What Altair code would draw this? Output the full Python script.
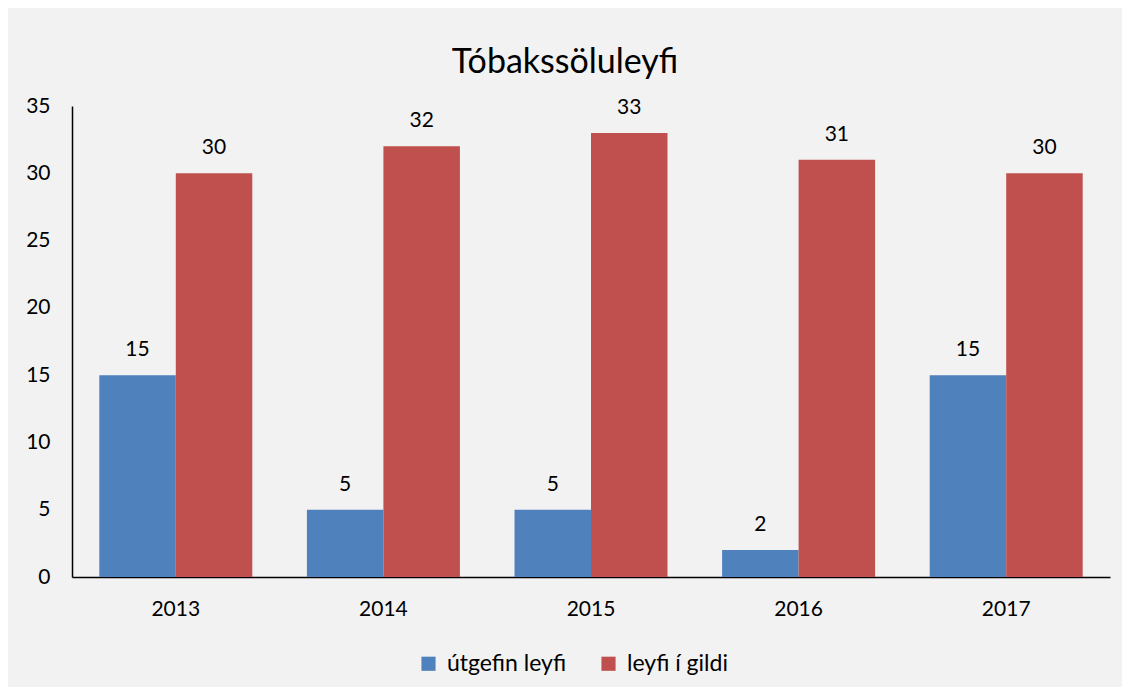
import altair as alt
import pandas as pd

years = ["2013", "2014", "2015", "2016", "2017"]
utgefin = [15, 5, 5, 2, 15]
gildi = [30, 32, 33, 31, 30]
series = ["útgefin leyfi", "leyfi í gildi"]
colors = ["#4f81bd", "#c0504d"]

rows = []
for i, y in enumerate(years):
    rows.append({"year": y, "series": series[0], "value": utgefin[i]})
    rows.append({"year": y, "series": series[1], "value": gildi[i]})
df = pd.DataFrame(rows)

FONT = "Lato"

base = alt.Chart(df).encode(
    x=alt.X("year:N", sort=years, title=None,
            scale=alt.Scale(paddingInner=0.263, paddingOuter=0.1315),
            axis=alt.Axis(labelAngle=0, ticks=False, domainColor="#000000",
                          domainWidth=1.5, labelFontSize=21, labelPadding=21,
                          labelColor="#000000", labelFont=FONT)),
    xOffset=alt.XOffset("series:N", sort=series, scale=alt.Scale(paddingInner=0, paddingOuter=0)),
)

bars = base.mark_bar().encode(
    y=alt.Y("value:Q", title=None, scale=alt.Scale(domain=[0, 35]),
            axis=alt.Axis(values=[0, 5, 10, 15, 20, 25, 30, 35], grid=False, ticks=False,
                          domainColor="#000000", domainWidth=1.5, labelFontSize=21,
                          labelPadding=22, labelColor="#000000", labelFont=FONT)),
    color=alt.Color("series:N", sort=series,
                    scale=alt.Scale(domain=series, range=colors),
                    legend=alt.Legend(title=None, orient="none", direction="horizontal",
                                      legendX=345, legendY=546, symbolType="square",
                                      symbolSize=200, labelFontSize=23, labelFont=FONT,
                                      labelColor="#000000", columnPadding=30,
                                      symbolStrokeWidth=0, labelOffset=7)),
)

labels = base.mark_text(dy=-25, fontSize=21, font=FONT, color="#000000").encode(
    y="value:Q",
    text="value:Q",
)

chart = (bars + labels).properties(
    width=1038,
    height=471,
    title=alt.TitleParams("Tóbakssöluleyfi", fontSize=34, font=FONT, fontWeight="normal",
                          color="#000000", anchor="middle", dx=-26, offset=15),
    background="#f2f2f2",
    padding={"left": 64, "top": 98, "right": 12, "bottom": 110},
    autosize=alt.AutoSizeParams(type="none"),
).configure_view(stroke=None)

chart.save("out.html", embed_options={"renderer": "svg", "actions": False})
